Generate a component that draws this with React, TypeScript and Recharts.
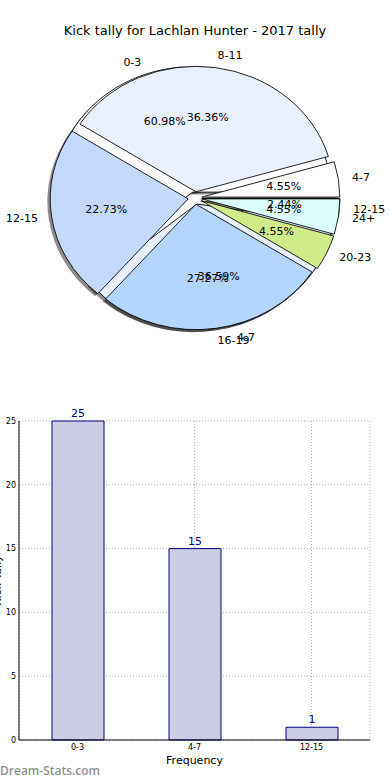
import { PieChart, Pie, Cell, BarChart, Bar, XAxis, YAxis, CartesianGrid, LabelList } from "recharts";

// pie of 3 groups (drawn underneath) and pie of 6 groups (drawn on top)
const innerCategories = ["0-3", "4-7", "12-15"];
const innerValues = [25, 15, 1];
const outerCategories = ["4-7", "8-11", "12-15", "16-19", "20-23", "24+"];
const outerValues = [1, 8, 5, 6, 1, 1];

const barCategories = ["0-3", "4-7", "12-15"];
const barValues = [25, 15, 1];
const yTicks = [0, 5, 10, 15, 20, 25];

const COLORS = ["#ffffff", "#e8f0fe", "#c5d9fe", "#b4d5fe", "#d0eb8a", "#dcfefe"];
const FONT = "'DejaVu Sans', sans-serif";

const CX = 195;
const CY = 198;
const RX = 138;
const SY = 0.909; // axes aren't square, so the pie is squashed a bit
const EXPLODE = 0.05;

const toRows = (names: string[], values: number[]) =>
  names.map((name, i) => ({ name, value: values[i] }));

// per-slice transform: explode along the mid angle, then squash vertically
const sliceStyles = (values: number[], shift = [0, 0]) => {
  const total = values.reduce((a, b) => a + b, 0);
  let acc = 0;
  return values.map((v) => {
    const mid = ((acc + v / 2) / total) * 2 * Math.PI;
    acc += v;
    const dx = EXPLODE * RX * Math.cos(mid) + shift[0];
    const dy = -EXPLODE * RX * SY * Math.sin(mid) + shift[1];
    return {
      transform: `translate(${dx}px, ${dy}px) scaleY(${SY})`,
      transformOrigin: `${CX}px ${CY}px`,
    };
  });
};

const makeLabel = (names: string[]) => (props: any) => {
  const { midAngle, percent, index } = props;
  const rad = (midAngle * Math.PI) / 180;
  const cos = Math.cos(rad);
  const sin = Math.sin(rad);
  const lx = CX + 1.15 * RX * cos;
  const ly = CY - 1.15 * RX * SY * sin;
  const px = CX + 0.65 * RX * cos;
  const py = CY - 0.65 * RX * SY * sin;
  return (
    <g>
      <text x={lx} y={ly} textAnchor={cos >= 0 ? "start" : "end"} dominantBaseline="central"
        fontSize={11} fontFamily={FONT} fill="#000">
        {names[index]}
      </text>
      <text x={px} y={py} textAnchor="middle" dominantBaseline="central"
        fontSize={11} fontFamily={FONT} fill="#000">
        {(percent * 100).toFixed(2)}%
      </text>
    </g>
  );
};

const TallyPie = () => {
  const innerData = toRows(innerCategories, innerValues);
  const outerData = toRows(outerCategories, outerValues);
  const innerStyles = sliceStyles(innerValues);
  const outerStyles = sliceStyles(outerValues);
  const innerShadow = sliceStyles(innerValues, [-2.8, 2.5]);
  const outerShadow = sliceStyles(outerValues, [-2.8, 2.5]);

  return (
    <PieChart width={390} height={380} margin={{ top: 0, right: 0, bottom: 0, left: 0 }}>
      <Pie data={innerData} dataKey="value" cx={CX} cy={CY} outerRadius={RX} stroke="none"
        isAnimationActive={false} label={false} labelLine={false}>
        {innerData.map((_, i) => (
          <Cell key={`is-${i}`} fill="#000" fillOpacity={0.45} style={innerShadow[i]} />
        ))}
      </Pie>
      <Pie data={outerData} dataKey="value" cx={CX} cy={CY} outerRadius={RX} stroke="none"
        isAnimationActive={false} label={false} labelLine={false}>
        {outerData.map((_, i) => (
          <Cell key={`os-${i}`} fill="#000" fillOpacity={0.45} style={outerShadow[i]} />
        ))}
      </Pie>
      <Pie data={innerData} dataKey="value" cx={CX} cy={CY} outerRadius={RX} stroke="#000"
        strokeWidth={0.9} isAnimationActive={false} label={false} labelLine={false}>
        {innerData.map((_, i) => (
          <Cell key={`i-${i}`} fill={COLORS[i]} style={innerStyles[i]} />
        ))}
      </Pie>
      <Pie data={outerData} dataKey="value" cx={CX} cy={CY} outerRadius={RX} stroke="#000"
        strokeWidth={0.9} isAnimationActive={false} label={makeLabel(outerCategories)} labelLine={false}>
        {outerData.map((_, i) => (
          <Cell key={`o-${i}`} fill={COLORS[i]} style={outerStyles[i]} />
        ))}
      </Pie>
      {/* inner pie's texts go above every wedge */}
      <Pie data={innerData} dataKey="value" cx={CX} cy={CY} outerRadius={RX} fill="none" stroke="none"
        isAnimationActive={false} label={makeLabel(innerCategories)} labelLine={false} />
    </PieChart>
  );
};

const TallyBars = () => {
  const data = toRows(barCategories, barValues);
  return (
    <BarChart width={390} height={380} data={data} margin={{ top: 21, right: 20, left: 0, bottom: 0 }}>
      <CartesianGrid stroke="#b0b0b0" strokeDasharray="1 2" />
      <XAxis dataKey="name" height={40} interval={0} tickSize={0} tickMargin={4}
        tick={{ fontSize: 8, fill: "#000", fontFamily: FONT }} axisLine={{ stroke: "#000" }}
        label={{ value: "Frequency", position: "insideBottom", offset: 16, fontSize: 11, fill: "#000", fontFamily: FONT }} />
      <YAxis domain={[0, 25]} ticks={yTicks} width={19} tickSize={0} tickMargin={3}
        tick={{ fontSize: 8, fill: "#000", fontFamily: FONT }} axisLine={{ stroke: "#000" }}
        label={({ viewBox }: any) => (
          <text x={-3} y={viewBox.y + viewBox.height / 2} transform={`rotate(-90, -3, ${viewBox.y + viewBox.height / 2})`}
            textAnchor="middle" dominantBaseline="central" fontSize={11} fontFamily={FONT} fill="#000">
            Kick Tally
          </text>
        )} />
      <XAxis xAxisId="top" orientation="top" dataKey="name" height={0} tick={false} tickLine={false}
        axisLine={{ stroke: "#000" }} />
      <YAxis yAxisId="right" orientation="right" width={0} domain={[0, 25]} tick={false} tickLine={false}
        axisLine={{ stroke: "#000" }} />
      <Bar dataKey="value" fill="#ccccE5" stroke="#000080" strokeWidth={1} barSize={52} isAnimationActive={false}>
        <LabelList dataKey="value" position="top" offset={4} fill="#000080" fontSize={11} fontFamily={FONT} />
      </Bar>
    </BarChart>
  );
};

export default function App() {
  return (
    <div style={{ position: "absolute", left: 0, top: 0, width: 390, height: 780, background: "#fff", fontFamily: FONT, overflow: "hidden" }}>
      <div style={{ position: "absolute", top: 23, left: 0, width: 390, textAlign: "center", fontSize: 13, color: "#000" }}>
        Kick tally for Lachlan Hunter - 2017 tally
      </div>
      <div style={{ position: "absolute", top: 0, left: 0 }}>
        <TallyPie />
      </div>
      <div style={{ position: "absolute", top: 400, left: 0 }}>
        <TallyBars />
      </div>
      <div style={{ position: "absolute", top: 762, left: 0, fontSize: 12, fontWeight: 600, color: "#909090", fontFamily: "'Open Sans', sans-serif" }}>
        Dream-Stats.com
      </div>
    </div>
  );
}
